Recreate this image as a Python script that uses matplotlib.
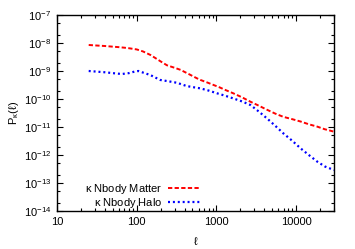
import matplotlib
matplotlib.use("Agg")
import matplotlib.pyplot as plt
from matplotlib.ticker import LogLocator, NullFormatter, FixedLocator, FixedFormatter

plt.rcParams["font.family"] = ["Liberation Sans", "DejaVu Sans"]
plt.rcParams["mathtext.default"] = "regular"

# kappa power spectrum, N-body matter
ell_matter = [25, 30, 40, 50, 60, 70, 80, 100, 120, 150, 200, 240, 300, 355, 450,
              570, 630, 750, 915, 1100, 1300, 1630, 2100, 2680, 3400, 4350, 5500,
              6950, 9000, 11500, 14500, 18500, 23000, 26000, 30000]
p_matter = [8.5e-9, 8.2e-9, 7.8e-9, 7.4e-9, 7.1e-9, 6.8e-9, 6.5e-9, 5.9e-9, 5.0e-9,
            3.7e-9, 2.2e-9, 1.6e-9, 1.3e-9, 1.1e-9, 7.8e-10, 5.5e-10, 4.8e-10,
            4.0e-10, 3.2e-10, 2.6e-10, 2.1e-10, 1.6e-10, 1.15e-10, 8.0e-11, 5.8e-11,
            4.1e-11, 3.0e-11, 2.3e-11, 1.9e-11, 1.56e-11, 1.25e-11, 1.03e-11,
            8.3e-12, 7.6e-12, 6.8e-12]

# kappa power spectrum, N-body halo
ell_halo = [25, 30, 40, 50, 65, 80, 95, 105, 120, 148, 197, 250, 320, 425, 530,
            630, 800, 1020, 1300, 1630, 2100, 2680, 3400, 4350, 5500, 6950, 9000,
            11500, 14500, 18500, 23000, 26000, 30000]
p_halo = [1.0e-9, 9.6e-10, 9.0e-10, 8.4e-10, 7.8e-10, 8.4e-10, 9.6e-10, 1.0e-9,
          8.8e-10, 7.2e-10, 4.8e-10, 4.3e-10, 3.8e-10, 2.9e-10, 2.6e-10, 2.4e-10,
          2.0e-10, 1.6e-10, 1.3e-10, 1.05e-10, 8.2e-11, 6.1e-11, 3.6e-11, 2.0e-11,
          1.1e-11, 5.9e-12, 3.2e-12, 1.7e-12, 1.0e-12, 5.8e-13, 3.9e-13, 3.4e-13,
          2.9e-13]

x_ticks = [10, 100, 1000, 10000]
x_labels = ["10", "100", "1000", "10000"]

fig = plt.figure(figsize=(3.55, 2.49), dpi=100)
ax = fig.add_axes([57 / 355, 1 - 211 / 249, 277 / 355, 196 / 249])

ax.plot(ell_matter, p_matter, color="#ff0000", linestyle=(0, (2.2, 1.2)),
        linewidth=1.4, label=r"$\kappa$ Nbody Matter")
ax.plot(ell_halo, p_halo, color="#0000ff", linestyle=(0, (0.9, 1.3)),
        linewidth=1.6, label=r"$\kappa$ Nbody Halo")

ax.set_xscale("log")
ax.set_yscale("log")
ax.set_xlim(10, 30000)
ax.set_ylim(1e-14, 1e-7)

ax.xaxis.set_major_locator(FixedLocator(x_ticks))
ax.xaxis.set_major_formatter(FixedFormatter(x_labels))
ax.xaxis.set_minor_locator(LogLocator(base=10, subs=range(2, 10), numticks=20))
ax.xaxis.set_minor_formatter(NullFormatter())
ax.yaxis.set_major_locator(LogLocator(base=10, numticks=20))
ax.yaxis.set_minor_locator(LogLocator(base=10, subs=(2, 5), numticks=20))
ax.yaxis.set_minor_formatter(NullFormatter())

ax.tick_params(which="both", direction="in", top=True, right=True, labelsize=8,
               width=0.8, colors="black")
ax.tick_params(which="major", length=4, pad=4)
ax.tick_params(which="minor", length=2)
for spine in ax.spines.values():
    spine.set_linewidth(1.0)

ax.set_xlabel(r"$\ell$", fontsize=8, labelpad=6)
ax.set_ylabel(r"P$_\kappa$($\ell$)", fontsize=8, labelpad=2)

ax.legend(loc="lower right", bbox_to_anchor=(0.545, -0.035), frameon=False,
          markerfirst=False, fontsize=8, handlelength=2.9, handletextpad=0.5,
          labelspacing=0.0, borderaxespad=0.3)

fig.savefig("out.png", dpi=100)
